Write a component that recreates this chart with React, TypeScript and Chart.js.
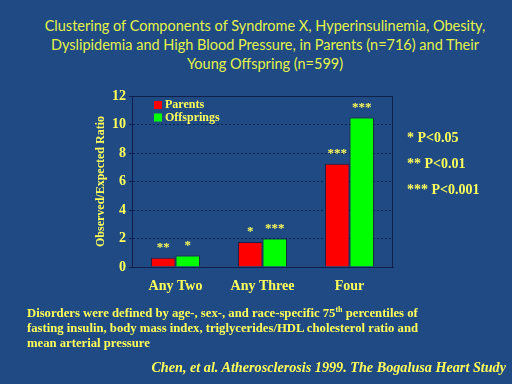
import React, { useEffect, useRef } from "react";
import { Chart, registerables } from "chart.js";

Chart.register(...registerables);

const categories = ["Any Two", "Any Three", "Four"];
const parentsValues = [0.65, 1.75, 7.25];
const offspringValues = [0.8, 2.0, 10.5];
const parentsSig = ["**", "*", "***"];
const offspringSig = ["*", "***", "***"];
const seriesNames = ["Parents", "Offsprings"];
const yTicks = [0, 2, 4, 6, 8, 10, 12];

const titleLines = [
  "Clustering of Components of Syndrome X, Hyperinsulinemia, Obesity,",
  "Dyslipidemia and High Blood Pressure, in Parents (n=716) and Their",
  "Young Offspring (n=599)",
];
const pLegend = ["* P<0.05", "** P<0.01", "*** P<0.001"];
const footLines = [
  "fasting insulin, body mass index, triglycerides/HDL cholesterol ratio and",
  "mean arterial pressure",
];
const citation = "Chen, et al. Atherosclerosis 1999. The Bogalusa Heart Study";

const BG = "#1f4a84";
const YEL = "#ffff5a";
const TITLE_YEL = "#e4f24c";
const SERIF = "'Liberation Serif', 'Times New Roman', serif";

export default function App() {
  const ref = useRef<HTMLCanvasElement>(null);
  useEffect(() => {
    document.body.style.margin = "0";
    const canvas = ref.current!;
    const annot = {
      id: "annot",
      afterDatasetsDraw(chart: any) {
        const ctx = chart.ctx;
        ctx.save();
        ctx.fillStyle = YEL;
        ctx.font = `bold 13px ${SERIF}`;
        ctx.textAlign = "center";
        ctx.textBaseline = "middle";
        const sigs = [parentsSig, offspringSig];
        sigs.forEach((arr, di) => {
          const meta = chart.getDatasetMeta(di);
          meta.data.forEach((bar: any, i: number) => {
            ctx.fillText(arr[i], bar.x, bar.y - 10);
          });
        });
        // legend inside chart area
        const a = chart.chartArea;
        const colors = ["#ff0000", "#00ff00"];
        ctx.textAlign = "left";
        ctx.textBaseline = "middle";
        ctx.font = `bold 12px ${SERIF}`;
        seriesNames.forEach((n, i) => {
          const y = a.top + 9 + i * 12.5;
          ctx.fillStyle = colors[i];
          ctx.fillRect(a.left + 22, y - 4, 8, 8);
          ctx.fillStyle = YEL;
          ctx.fillText(n, a.left + 33, y);
        });
        ctx.restore();
      },
    };
    const chart = new Chart(canvas, {
      type: "bar",
      data: {
        labels: categories,
        datasets: [
          {
            label: seriesNames[0],
            data: parentsValues,
            backgroundColor: "#ff0000",
            borderColor: "#1a2040",
            borderWidth: 1,
            categoryPercentage: 0.565,
            barPercentage: 1.0,
          },
          {
            label: seriesNames[1],
            data: offspringValues,
            backgroundColor: "#00ff00",
            borderColor: "#1a2040",
            borderWidth: 1,
            categoryPercentage: 0.565,
            barPercentage: 1.0,
          },
        ],
      },
      options: {
        responsive: false,
        animation: false,
        layout: { padding: { left: 86, right: 119, top: 96, bottom: 87 } },
        plugins: { legend: { display: false }, tooltip: { enabled: false } },
        scales: {
          x: {
            afterFit: (s: any) => {
              s.height = 30;
            },
            grid: { display: false, drawTicks: false },
            border: { color: "#10204a", width: 1 },
            ticks: {
              color: YEL,
              font: { family: SERIF, size: 14, weight: "bold" },
              padding: 11,
            },
          },
          y: {
            min: 0,
            max: 12,
            afterFit: (s: any) => {
              s.width = 46;
            },
            afterBuildTicks: (s: any) => {
              s.ticks = yTicks.map((v) => ({ value: v }));
            },
            border: { color: "#10204a", width: 1, dash: [2, 2] },
            grid: {
              color: (c: any) => (c.tick && (c.tick.value === 0 || c.tick.value === 12) ? "rgba(0,0,0,0)" : "#0d2350"),
              lineWidth: 1,
              drawTicks: true,
              tickLength: 3,
              tickColor: "#10204a",
              tickBorderDash: [],
            },
            ticks: {
              color: YEL,
              font: { family: SERIF, size: 14, weight: "bold" },
              padding: 3,
            },
            title: {
              display: true,
              text: "Observed/Expected Ratio",
              color: YEL,
              font: { family: SERIF, size: 12, weight: "bold" },
              padding: { top: 8, bottom: 0 },
            },
          },
        },
      },
      plugins: [
        annot,
        {
          id: "frame",
          beforeDatasetsDraw(chart: any) {
            const a = chart.chartArea;
            const ctx = chart.ctx;
            ctx.save();
            ctx.strokeStyle = "#10204a";
            ctx.lineWidth = 1;
            ctx.setLineDash([]);
            ctx.strokeRect(a.left + 0.5, a.top + 0.5, a.right - a.left - 1, a.bottom - a.top);
            ctx.restore();
          },
        },
      ],
    } as any);
    return () => chart.destroy();
  }, []);

  return (
    <div
      style={{
        position: "relative",
        width: 512,
        height: 384,
        background: BG,
        overflow: "hidden",
      }}
    >
      <div
        style={{
          position: "absolute",
          left: 0,
          top: 16,
          width: 530,
          textAlign: "center",
          color: TITLE_YEL,
          fontFamily: "Lato, 'Open Sans', sans-serif",
          fontSize: 14.5,
          lineHeight: "19px",
        }}
      >
        {titleLines.map((l, i) => (
          <div key={i}>{l}</div>
        ))}
      </div>
      <canvas ref={ref} width={512} height={384} style={{ position: "absolute", left: 0, top: 0 }} />
      <div
        style={{
          position: "absolute",
          left: 407,
          top: 125,
          color: YEL,
          fontFamily: SERIF,
          fontWeight: "bold",
          fontSize: 14,
          lineHeight: "26px",
          whiteSpace: "nowrap",
        }}
      >
        {pLegend.map((l, i) => (
          <div key={i}>{l}</div>
        ))}
      </div>
      <div
        style={{
          position: "absolute",
          left: 27,
          top: 306,
          color: YEL,
          fontFamily: SERIF,
          fontWeight: "bold",
          fontSize: 12.7,
          lineHeight: "15px",
          whiteSpace: "nowrap",
        }}
      >
        <div>
          Disorders were defined by age-, sex-, and race-specific 75<sup style={{ fontSize: 8, lineHeight: 0 }}>th</sup> percentiles of
        </div>
        {footLines.map((l, i) => (
          <div key={i}>{l}</div>
        ))}
      </div>
      <div
        style={{
          position: "absolute",
          right: 6,
          top: 359,
          color: YEL,
          fontFamily: SERIF,
          fontWeight: "bold",
          fontStyle: "italic",
          fontSize: 14.2,
          whiteSpace: "nowrap",
        }}
      >
        {citation}
      </div>
    </div>
  );
}
